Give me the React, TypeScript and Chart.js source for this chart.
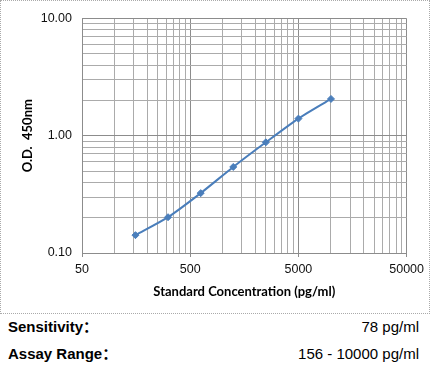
import React, { useEffect, useRef } from "react";
import { Chart, registerables } from "chart.js";

Chart.register(...registerables);

// Data
const concentrations = [156, 312, 625, 1250, 2500, 5000, 10000];
const odValues = [0.142, 0.202, 0.324, 0.542, 0.879, 1.4, 2.06];

// Axis ticks
const xMajorTicks = [50, 500, 5000, 50000];
const yMajorTicks = [0.1, 1, 10];
const minorMultipliers = [2, 3, 4, 5, 6, 7, 8, 9];

const xTitle = "Standard Concentration (pg/ml)";
const yTitle = "O.D.  450nm";

const sensitivityLabel = "Sensitivity：";
const sensitivityValue = "78 pg/ml";
const rangeLabel = "Assay Range：";
const rangeValue = "156 - 10000 pg/ml";

const MAJOR = "#8c8c8c";
const MINOR = "#ababab";
const LINE = "#4a7ebb";

function buildGrid(majors: number[]): number[] {
  const out: number[] = [];
  majors.forEach((m, i) => {
    out.push(m);
    if (i < majors.length - 1) minorMultipliers.forEach((k) => out.push(m * k));
  });
  return out;
}

function isMajor(v: number | undefined, majors: number[]): boolean {
  if (v === undefined) return false;
  return majors.some((m) => Math.abs(v - m) / m < 1e-6);
}

export default function App() {
  const ref = useRef<HTMLCanvasElement | null>(null);

  useEffect(() => {
    document.body.style.margin = "0";
    if (!ref.current) return;
    const xGrid = buildGrid(xMajorTicks);
    const yGrid = buildGrid(yMajorTicks);
    const tickFont = { family: "'Liberation Sans', Arial, sans-serif", size: 12.5 };
    const titleFont = { family: "Lato, 'Open Sans', sans-serif", size: 13, weight: "bold" as const };

    const chart = new Chart(ref.current, {
      type: "scatter",
      data: {
        datasets: [
          {
            data: concentrations.map((c, i) => ({ x: c, y: odValues[i] })),
            showLine: true,
            borderColor: LINE,
            backgroundColor: LINE,
            borderWidth: 2,
            pointStyle: "rectRot",
            pointRadius: 3.5,
            pointBorderWidth: 1,
            tension: 0.25,
          },
        ],
      },
      options: {
        animation: false,
        responsive: false,
        layout: { padding: { top: 14, right: 22, bottom: 0, left: 0 } },
        plugins: { legend: { display: false }, tooltip: { enabled: false } },
        scales: {
          x: {
            type: "logarithmic",
            min: 50,
            max: 50000,
            afterBuildTicks: (scale: any) => {
              scale.ticks = xGrid.map((v) => ({ value: v }));
            },
            afterFit: (scale: any) => {
              scale.height = 60;
            },
            ticks: {
              autoSkip: false,
              maxRotation: 0,
              padding: 5,
              color: "#111",
              font: tickFont,
              callback: (v: any) => (isMajor(Number(v), xMajorTicks) ? String(Math.round(Number(v))) : ""),
            },
            grid: {
              color: (ctx: any) => (isMajor(ctx.tick?.value, xMajorTicks) ? MAJOR : MINOR),
              tickColor: (ctx: any) => (isMajor(ctx.tick?.value, xMajorTicks) ? MAJOR : "rgba(0,0,0,0)"),
              tickLength: 4,
              lineWidth: 1,
            },
            border: { display: true, color: MAJOR },
            title: {
              display: true,
              text: xTitle,
              color: "#000",
              font: titleFont,
              padding: { top: 0, bottom: 13.5 },
            },
          },
          y: {
            type: "logarithmic",
            min: 0.1,
            max: 10,
            afterBuildTicks: (scale: any) => {
              scale.ticks = yGrid.map((v) => ({ value: v }));
            },
            afterFit: (scale: any) => {
              scale.width = 81;
            },
            ticks: {
              autoSkip: false,
              padding: 10,
              color: "#111",
              font: tickFont,
              callback: (v: any) => (isMajor(Number(v), yMajorTicks) ? Number(v).toFixed(2) : ""),
            },
            grid: {
              color: (ctx: any) => (isMajor(ctx.tick?.value, yMajorTicks) ? MAJOR : MINOR),
              drawTicks: false,
              lineWidth: 1,
            },
            border: { display: true, color: MAJOR },
            title: {
              display: true,
              text: yTitle,
              color: "#000",
              font: titleFont,
              padding: { top: 19, bottom: 0 },
            },
          },
        },
      },
    });
    return () => chart.destroy();
  }, []);

  const rowStyle: React.CSSProperties = {
    display: "flex",
    justifyContent: "space-between",
    padding: "0 11px 0 8px",
    fontFamily: "'Liberation Sans', Arial, 'Noto Sans CJK SC', sans-serif",
    fontSize: 15,
    color: "#000",
  };

  return (
    <div style={{ width: 430 }}>
      <div style={{ width: 428, height: 312, border: "1px dotted #aaa" }}>
        <canvas ref={ref} width={428} height={312} style={{ display: "block" }} />
      </div>
      <div style={{ ...rowStyle, lineHeight: "26px" }}>
        <span style={{ fontWeight: "bold" }}>{sensitivityLabel}</span>
        <span>{sensitivityValue}</span>
      </div>
      <div style={{ ...rowStyle, lineHeight: "28px" }}>
        <span style={{ fontWeight: "bold" }}>{rangeLabel}</span>
        <span>{rangeValue}</span>
      </div>
    </div>
  );
}
